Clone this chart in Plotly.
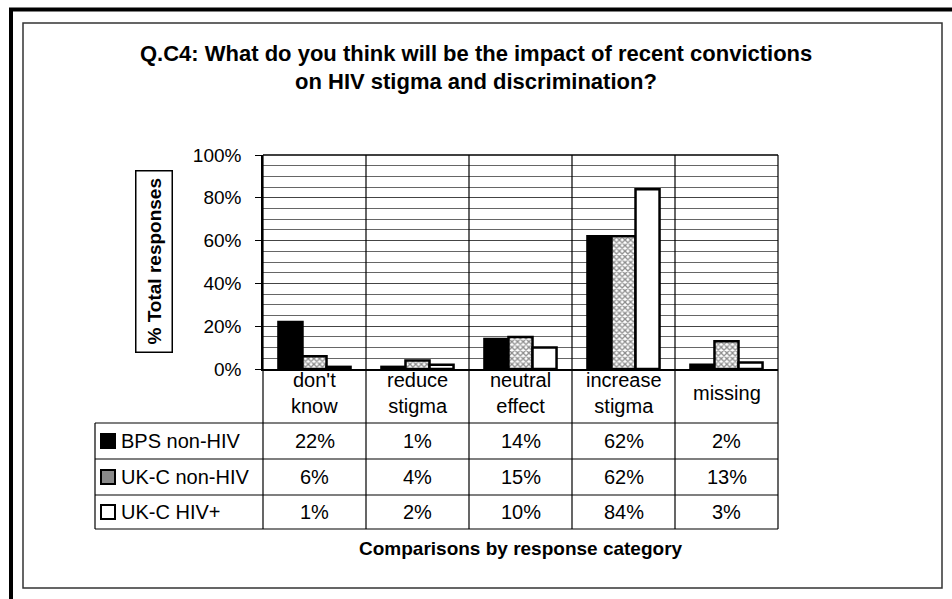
import plotly.graph_objects as go

# Survey results: share of responses per category for each respondent group
categories = ["don't know", "reduce stigma", "neutral effect", "increase stigma", "missing"]
header_labels = ["don't<br>know", "reduce<br>stigma", "neutral<br>effect", "increase<br>stigma", "missing"]
groups = ["BPS non-HIV", "UK-C non-HIV", "UK-C HIV+"]
bps_non_hiv = [22, 1, 14, 62, 2]
ukc_non_hiv = [6, 4, 15, 62, 13]
ukc_hiv_pos = [1, 2, 10, 84, 3]
y_ticks = [0, 20, 40, 60, 80, 100]

series = [bps_non_hiv, ukc_non_hiv, ukc_hiv_pos]

W, H = 952, 599
PL, PR, PT, PB = 263, 778, 155, 369  # plot area in pixels
FONT = "Arial, Liberation Sans, sans-serif"


def fx(px):
    return (px - PL) / (PR - PL)


def fy(py):
    return (PB - py) / (PB - PT)


fig = go.Figure()

hatch = dict(shape="x", size=4, solidity=0.55, fgcolor="#1a1a1a",
             bgcolor="white", fillmode="overlay")
bar_styles = [
    dict(color="black", pattern=dict(shape="")),
    dict(color="white", pattern=hatch),
    dict(color="white", pattern=dict(shape="")),
]

for name, vals, st in zip(groups, series, bar_styles):
    fig.add_trace(go.Bar(
        x=categories, y=vals, name=name,
        marker=dict(color=st["color"], pattern=st["pattern"],
                    line=dict(color="black", width=2.5)),
        showlegend=False,
    ))

shapes = []
ann = []

# category separators running through plot and table
n = len(categories)
for i in range(n + 1):
    shapes.append(dict(type="line", xref="paper", yref="paper",
                       x0=i / n, x1=i / n, y0=fy(529), y1=1,
                       line=dict(color="black", width=1.2)))
# plot frame top
shapes.append(dict(type="line", xref="paper", yref="paper", x0=0, x1=1, y0=1, y1=1,
                   line=dict(color="black", width=1.5)))
# table horizontal rules
for py in [423, 459, 495, 529]:
    shapes.append(dict(type="line", xref="paper", yref="paper",
                       x0=fx(95), x1=1, y0=fy(py), y1=fy(py),
                       line=dict(color="black", width=1.2)))
# left edge of legend column
shapes.append(dict(type="line", xref="paper", yref="paper",
                   x0=fx(95), x1=fx(95), y0=fy(423), y1=fy(529),
                   line=dict(color="black", width=1.2)))

# category headers
for i, lab in enumerate(header_labels):
    ann.append(dict(xref="paper", yref="paper", x=(i + 0.5) / n, y=fy(393),
                    text=lab, showarrow=False, xanchor="center", yanchor="middle",
                    font=dict(family=FONT, size=20, color="black")))

# table rows: legend key, group name, values
row_centers = [441, 477, 512]
key_fill = ["black", "#8a8a8a", "white"]
for r, (name, vals) in enumerate(zip(groups, series)):
    yc = row_centers[r]
    shapes.append(dict(type="rect", xref="paper", yref="paper",
                       x0=fx(101), x1=fx(115), y0=fy(yc + 7), y1=fy(yc - 7),
                       fillcolor=key_fill[r], line=dict(color="black", width=2)))
    ann.append(dict(xref="paper", yref="paper", x=fx(119), y=fy(yc),
                    text=name, showarrow=False, xanchor="left", yanchor="middle",
                    font=dict(family=FONT, size=20, color="black")))
    for i, v in enumerate(vals):
        ann.append(dict(xref="paper", yref="paper", x=(i + 0.5) / n, y=fy(yc),
                        text=f"{v}%", showarrow=False, xanchor="center", yanchor="middle",
                        font=dict(family=FONT, size=20, color="black")))

# x axis caption
ann.append(dict(xref="paper", yref="paper", x=0.5, y=fy(548),
                text="<b>Comparisons by response category</b>", showarrow=False,
                xanchor="center", yanchor="middle",
                font=dict(family=FONT, size=19, color="black")))

# boxed y axis title
ann.append(dict(xref="paper", yref="paper", x=fx(154), y=0.5,
                text="<b>% Total responses</b>", textangle=-90, showarrow=False,
                xanchor="center", yanchor="middle", borderpad=7,
                bordercolor="black", borderwidth=1.5,
                font=dict(family=FONT, size=19, color="black")))

# two-line heading
ann.append(dict(xref="paper", yref="paper", x=fx(476), y=fy(53),
                text="<b>Q.C4: What do you think will be the impact of recent convictions</b>",
                showarrow=False, xanchor="center", yanchor="middle",
                font=dict(family=FONT, size=22, color="black")))
ann.append(dict(xref="paper", yref="paper", x=fx(476), y=fy(82),
                text="<b>on HIV stigma and discrimination?</b>",
                showarrow=False, xanchor="center", yanchor="middle",
                font=dict(family=FONT, size=22, color="black")))

# page frames
shapes.append(dict(type="rect", xref="paper", yref="paper",
                   x0=fx(23), x1=fx(942), y0=fy(588), y1=fy(23),
                   line=dict(color="#333333", width=1.5)))
shapes.append(dict(type="line", xref="paper", yref="paper",
                   x0=fx(9), x1=fx(952), y0=fy(9.5), y1=fy(9.5),
                   line=dict(color="black", width=4)))
shapes.append(dict(type="line", xref="paper", yref="paper",
                   x0=fx(11), x1=fx(11), y0=fy(599), y1=fy(8),
                   line=dict(color="black", width=4)))

fig.update_layout(
    width=W, height=H,
    margin=dict(l=PL, r=W - PR, t=PT, b=H - PB, pad=0),
    paper_bgcolor="white", plot_bgcolor="white",
    barmode="group", bargap=0.3, bargroupgap=0,
    shapes=shapes, annotations=ann,
    font=dict(family=FONT, color="black"),
)
fig.update_xaxes(showticklabels=False, ticks="", showgrid=False, zeroline=False,
                 showline=True, linecolor="black", linewidth=1.5)
fig.update_yaxes(range=[0, 100], tickvals=y_ticks, ticktext=[f"{t}%" for t in y_ticks],
                 ticks="outside", ticklen=6, tickcolor="black", tickwidth=1.2,
                 tickfont=dict(family=FONT, size=19, color="black"),
                 showline=True, linecolor="black", linewidth=1.5,
                 showgrid=True, gridcolor="#444444", gridwidth=1,
                 minor=dict(dtick=5, showgrid=True, gridcolor="#666666", gridwidth=1, ticks=""),
                 zeroline=False, ticklabelstandoff=10)

fig.write_html("out.html")
